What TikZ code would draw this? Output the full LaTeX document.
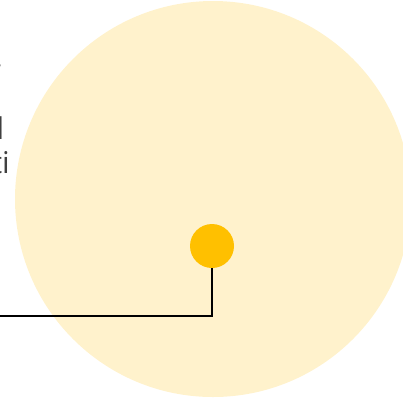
\documentclass[tikz,border=0pt]{standalone}
\usepackage{fontspec}
\setmainfont{Open Sans}
\usetikzlibrary{positioning}
\definecolor{halo}{HTML}{FFF2CC}
\definecolor{gold}{HTML}{FFC000}
\definecolor{ink}{HTML}{404040}
\begin{document}
\begin{tikzpicture}[x=1pt,y=-1pt,
  frag/.style={font=\fontsize{30}{36}\selectfont,text=ink,anchor=base east,inner sep=0pt},
  lead/.style={draw=black,line width=1.8pt}]
  \useasboundingbox (0,0) rectangle (403,397);
  \clip (0,0) rectangle (403,397);
  \fill[halo] (213,199) circle[radius=198];
  \node[circle,fill=gold,minimum size=44pt,inner sep=0pt] (dot) at (212,246) {};
  \coordinate (bend) at (212,316);
  \coordinate (edge) at (-2,316);
  \draw[lead] (dot.south) -- (bend) -- (edge);
  % clipped text at the left edge
  \node[frag] (t1) at (3,68) {,};
  \node[frag] (t2) at (4.5,139) {l};
  \node[frag] (t3) at (10,173) {ti};
\end{tikzpicture}
\end{document}
